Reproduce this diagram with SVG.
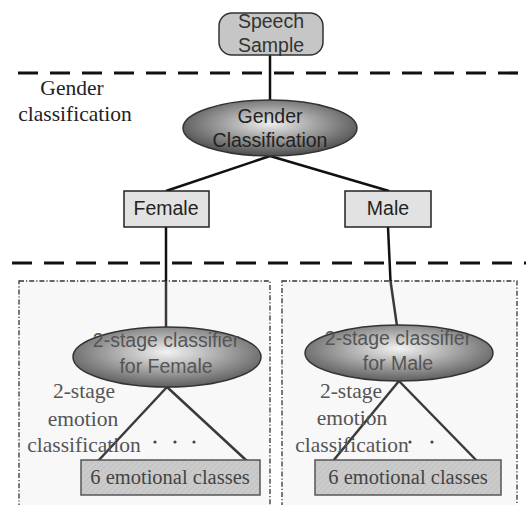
<svg xmlns="http://www.w3.org/2000/svg" width="526" height="505" viewBox="0 0 526 505">
<defs>
<radialGradient id="eg" cx="0.5" cy="0.42" r="0.55">
<stop offset="0" stop-color="#eeeeee"/>
<stop offset="0.5" stop-color="#a0a0a0"/>
<stop offset="1" stop-color="#555555"/>
</radialGradient>
<radialGradient id="eg2" cx="0.5" cy="0.42" r="0.55">
<stop offset="0" stop-color="#f2f2f2"/>
<stop offset="0.5" stop-color="#adadad"/>
<stop offset="1" stop-color="#666666"/>
</radialGradient>
<pattern id="hatch" width="4" height="4" patternUnits="userSpaceOnUse" patternTransform="rotate(45)">
<rect width="4" height="4" fill="#cbcbcb"/>
<line x1="0" y1="0" x2="0" y2="4" stroke="#b8b8b8" stroke-width="1"/>
</pattern>
</defs>
<style>
.sans{font-family:"Liberation Sans",Arial,sans-serif;text-anchor:middle}
.serif{font-family:"Liberation Serif","Times New Roman",serif;text-anchor:middle}
.dash{stroke:#111;stroke-width:3.2;stroke-dasharray:20 12;fill:none}
.dd{fill:#f8f8f8;stroke:#333;stroke-width:1.3;stroke-dasharray:5 2 1.2 2}
.conn{stroke:#111;stroke-width:2.5;fill:none}
.conn2{stroke:#3a3a3a;stroke-width:2.5;fill:none}
.ell{stroke:#333;stroke-width:1.5}
.box{fill:#e2e2e2;stroke:#222;stroke-width:1.5}
.ebox{fill:url(#hatch);stroke:#555;stroke-width:1.5}
</style>
<rect width="526" height="505" fill="#ffffff"/>
<g id="regions">
<rect class="dd" x="19" y="281" width="251" height="230"/>
<rect class="dd" x="282" y="281" width="235" height="230"/>
</g>
<g id="separators">
<line class="dash" x1="18" y1="73" x2="526" y2="73"/>
<line class="dash" x1="12" y1="263" x2="526" y2="263"/>
</g>
<g id="connectors">
<line class="conn" x1="270" y1="55" x2="270" y2="101"/>
<line class="conn" x1="270" y1="156" x2="166" y2="191"/>
<line class="conn" x1="270" y1="156" x2="389" y2="191"/>
<line class="conn" x1="166" y1="227" x2="166" y2="281"/>
<line class="conn2" x1="166" y1="281" x2="166" y2="327"/>
<line class="conn" x1="388" y1="227" x2="390.5" y2="281"/>
<line class="conn2" x1="390.5" y1="281" x2="397" y2="326"/>
<line class="conn2" x1="167" y1="387" x2="98" y2="461"/>
<line class="conn2" x1="167" y1="387" x2="247" y2="461"/>
<line class="conn2" x1="399" y1="381" x2="333" y2="461"/>
<line class="conn2" x1="399" y1="381" x2="477" y2="461"/>
</g>
<g id="speech-sample">
<rect x="219" y="13" width="104" height="42" rx="13" fill="#c6c6c6" stroke="#333" stroke-width="1.5"/>
<text class="sans" x="271" y="28" font-size="19.5" fill="#333">Speech</text>
<text class="sans" x="271" y="52" font-size="19.5" fill="#333">Sample</text>
</g>
<g id="gender-label">
<text class="serif" x="72" y="95" font-size="21.5" fill="#222">Gender</text>
<text class="serif" x="75" y="121" font-size="21.5" fill="#222">classification</text>
</g>
<g id="gender-classification">
<ellipse class="ell" cx="270" cy="128" rx="87" ry="28" fill="url(#eg)"/>
<text class="sans" x="270" y="123" font-size="19.5" fill="#222">Gender</text>
<text class="sans" x="270" y="147" font-size="19.5" fill="#222">Classification</text>
</g>
<g id="female">
<rect class="box" x="124" y="191" width="85" height="36"/>
<text class="sans" x="166" y="215" font-size="19.5" fill="#222">Female</text>
</g>
<g id="male">
<rect class="box" x="345" y="191" width="86" height="36"/>
<text class="sans" x="388" y="215" font-size="19.5" fill="#222">Male</text>
</g>
<g id="classifier-female">
<ellipse class="ell" cx="167" cy="357" rx="94" ry="30" fill="url(#eg2)"/>
<text class="sans" x="166" y="347" font-size="19.5" fill="#555">2-stage classifier</text>
<text class="sans" x="166" y="373" font-size="19.5" fill="#555">for Female</text>
</g>
<g id="classifier-male">
<ellipse class="ell" cx="399" cy="353" rx="94" ry="28" fill="url(#eg2)"/>
<text class="sans" x="398" y="345" font-size="19.5" fill="#555">2-stage classifier</text>
<text class="sans" x="398" y="370" font-size="19.5" fill="#555">for Male</text>
</g>
<g id="emotion-label-female">
<text class="serif" x="84" y="398" font-size="21.5" fill="#555">2-stage</text>
<text class="serif" x="83" y="426" font-size="21.5" fill="#555">emotion</text>
<text class="serif" x="84" y="452" font-size="21.5" fill="#555">classification</text>
</g>
<g id="emotion-label-male">
<text class="serif" x="351" y="398" font-size="21.5" fill="#555">2-stage</text>
<text class="serif" x="352" y="425" font-size="21.5" fill="#555">emotion</text>
<text class="serif" x="352" y="452" font-size="21.5" fill="#555">classification</text>
</g>
<g id="dots" fill="#444">
<circle cx="155" cy="442" r="1.6"/>
<circle cx="175" cy="442" r="1.6"/>
<circle cx="194" cy="442" r="1.6"/>
<circle cx="410" cy="442" r="1.6"/>
<circle cx="432" cy="442" r="1.6"/>
</g>
<g id="classes-female">
<rect class="ebox" x="81" y="460" width="179" height="35"/>
<text class="serif" x="170" y="484" font-size="20.5" fill="#444">6 emotional classes</text>
</g>
<g id="classes-male">
<rect class="ebox" x="315" y="460" width="186" height="35"/>
<text class="serif" x="408" y="484" font-size="20.5" fill="#444">6 emotional classes</text>
</g>
</svg>
